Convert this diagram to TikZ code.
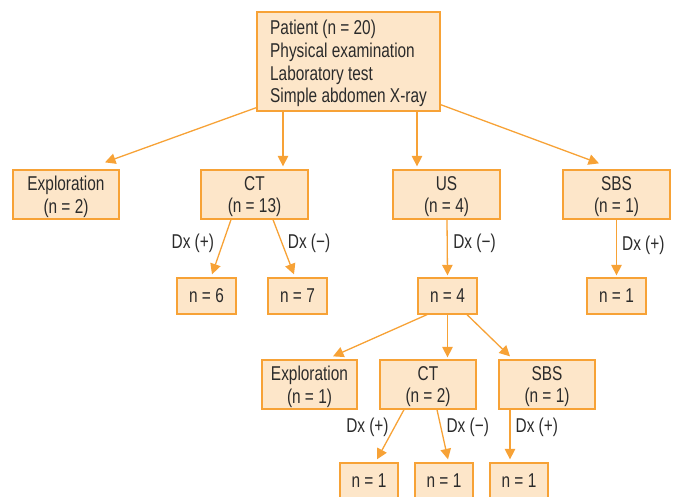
\documentclass[tikz,border=0pt]{standalone}
\usepackage{fontspec}
\setmainfont{Liberation Sans}[FakeStretch=0.77]
\usepackage{tikz}
\usetikzlibrary{positioning,arrows.meta,calc}
\definecolor{boxline}{HTML}{F7A236}
\definecolor{boxfill}{HTML}{FDE6C9}
\definecolor{txt}{HTML}{2B2B2B}

\begin{document}
\begin{tikzpicture}[
    x=1pt, y=-1pt,
    font=\fontsize{20}{22.8}\selectfont,
    line/.style={draw=boxline, line width=1.3pt, -{Triangle[length=10.5pt,width=10.5pt]}},
    box/.style={draw=boxline, fill=boxfill, line width=1.3pt, text=txt, align=center, inner sep=2pt, text depth=0pt, minimum width=107pt, minimum height=49pt},
    smallbox/.style={box, minimum width=59pt, minimum height=36pt},
    dx/.style={text=txt, inner sep=0pt}
]
\useasboundingbox (0,0) rectangle (675,496);

\node[box, align=left, minimum width=183pt, minimum height=99pt] (patient) at (348.5,61.5)
    {Patient (n = 20)\\Physical examination\\Laboratory test\\Simple abdomen X-ray};

% first level
\node[box, minimum width=106pt] (explore) at (66,194.5) {Exploration\\(n = 2)};
\node[box] (ct) at (254.5,194.5) {CT\\(n = 13)};
\node[box] (us) at (446.5,194.5) {US\\(n = 4)};
\node[box] (sbs) at (616.5,194.5) {SBS\\(n = 1)};

\node[smallbox] (ctpos) at (206.5,296) {n = 6};
\node[smallbox] (ctneg) at (297.5,296) {n = 7};
\node[smallbox] (usneg) at (447.5,296) {n = 4};
\node[smallbox] (sbspos) at (616.5,296) {n = 1};

% after negative US
\node[box, minimum width=95pt] (explore2) at (309.5,384.5) {Exploration\\(n = 1)};
\node[box, minimum width=96pt] (ct2) at (428,384.5) {CT\\(n = 2)};
\node[box, minimum width=96pt] (sbs2) at (547,384.5) {SBS\\(n = 1)};

\node[smallbox, minimum width=58pt] (ctpos2) at (369,481) {n = 1};
\node[smallbox, minimum width=58pt] (ctneg2) at (444,481) {n = 1};
\node[smallbox, minimum width=58pt] (sbspos2) at (519,481) {n = 1};

\draw[line] ($(patient.south west)+(0,-4)$) -- ($(explore.north)+(39,-7)$);
\draw[line] ($(patient.south)+(-65.5,0)$) -- ($(ct.north)+(28.5,-3)$);
\draw[line] ($(patient.south)+(68.5,0)$) -- ($(us.north)+(-29.5,-3)$);
\draw[line] ($(patient.south east)+(0,-7)$) -- ($(sbs.north)+(-17.5,-6)$);

\draw[line] ($(ct.south)+(-23.5,0)$) -- node[dx, pos=0.44, left=8pt] {Dx (+)} ($(ctpos.north)+(5.5,-3)$);
\draw[line] ($(ct.south)+(18.5,0)$) -- node[dx, pos=0.44, right=5pt] {Dx (−)} ($(ctneg.north)+(-3.5,-3)$);
\draw[line] ($(us.south)+(0.5,0)$) -- node[dx, pos=0.42, right=5.5pt] {Dx (−)} ($(usneg.north)+(0,-2)$);
\draw[line] (sbs.south) -- node[dx, pos=0.46, right=5pt] {Dx (+)} ($(sbspos.north)+(0,-2)$);

\draw[line] ($(usneg.south)+(-20.5,0)$) -- ($(explore2.north)+(23.5,-3)$);
\draw[line] (usneg.south) -- ($(ct2.north)+(19.5,-2)$);
\draw[line] ($(usneg.south)+(19.5,0)$) -- ($(sbs2.north)+(-37,-3)$);

\draw[line] ($(ct2.south)+(-24,0)$) -- node[dx, pos=0.36, left=5pt] {Dx (+)} ($(ctpos2.north)+(8,-3)$);
\draw[line] ($(ct2.south)+(9,0)$) -- node[dx, pos=0.36, right=5pt] {Dx (−)} ($(ctneg2.north)+(4,-3)$);
\draw[line] ($(sbs2.south)+(-37,0)$) -- node[dx, pos=0.36, right=5pt] {Dx (+)} ($(sbspos2.north)+(-9,-3)$);

\end{tikzpicture}
\end{document}
